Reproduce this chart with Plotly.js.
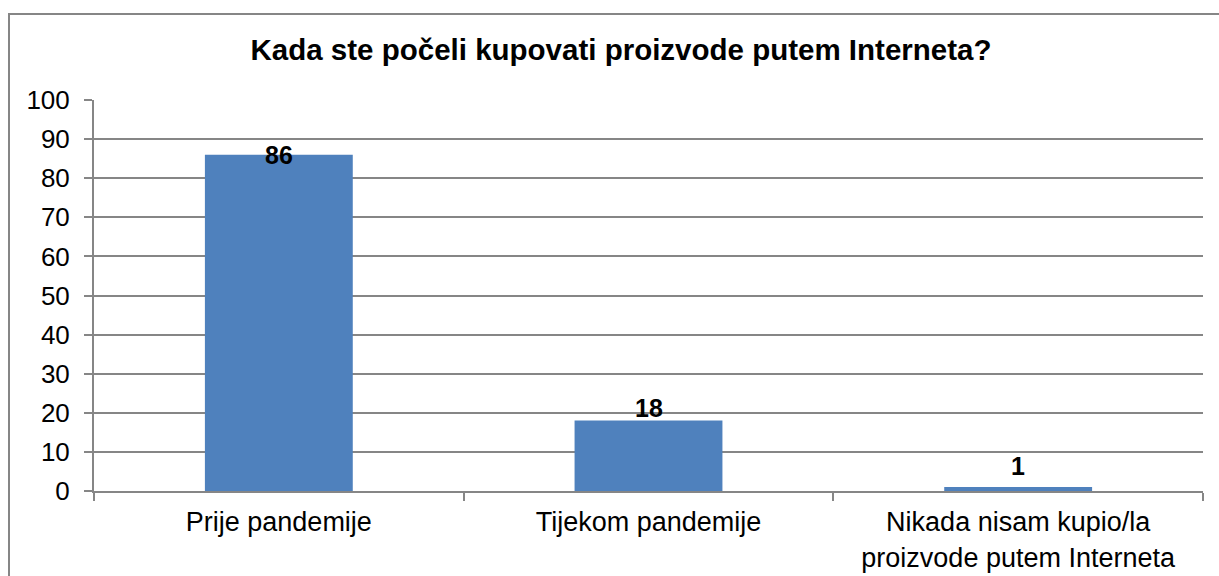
<!DOCTYPE html>
<html>
<head>
<meta charset="utf-8">
<script src="https://cdn.plot.ly/plotly-3.0.1.min.js"></script>
<style>
html,body{margin:0;padding:0;background:#fff;}
#wrap{position:relative;width:1219px;height:576px;overflow:hidden;}
#chart{width:1219px;height:576px;}
#frame{position:absolute;left:8px;top:13px;width:1300px;height:700px;border:2px solid #868686;box-sizing:border-box;pointer-events:none;}
</style>
</head>
<body>
<div id="wrap"><div id="chart"></div><div id="frame"></div></div>
<script>
const categories = ["Prije pandemije", "Tijekom pandemije", "Nikada nisam kupio/la<br>proizvode putem Interneta"];
const values = [86, 18, 1];
const yTicks = [0, 10, 20, 30, 40, 50, 60, 70, 80, 90, 100];
const labelShift = [0, 13, 21];

const font = "Liberation Sans, Arial, sans-serif";
const trace = {
  type: "bar",
  x: categories,
  y: values,
  marker: {color: "#4F81BD"},
  hoverinfo: "x+y"
};
const annotations = values.map((v, i) => ({
  x: categories[i], y: v, xref: "x", yref: "y",
  text: "<b>" + v + "</b>", showarrow: false,
  yanchor: "middle", yshift: labelShift[i],
  font: {family: font, size: 25, color: "#000"}
}));
const layout = {
  width: 1219, height: 576,
  margin: {l: 94, r: 16, t: 100, b: 85},
  paper_bgcolor: "#fff", plot_bgcolor: "#fff",
  bargap: 0.6,
  showlegend: false,
  title: {text: "<b>Kada ste počeli kupovati proizvode putem Interneta?</b>",
          font: {family: font, size: 29.5, color: "#000"},
          x: 621/1219, xref: "container", xanchor: "center",
          y: 1 - 50/576, yref: "container", yanchor: "middle"},
  xaxis: {type: "category", tickson: "boundaries", ticks: "outside", ticklen: 8,
          tickcolor: "#868686", tickwidth: 2, showline: true, linecolor: "#868686", linewidth: 2,
          showgrid: false, ticklabelstandoff: 6,
          tickfont: {family: font, size: 27, color: "#000"}, fixedrange: true},
  yaxis: {range: [0, 100], tickvals: yTicks, ticktext: yTicks.map(String), ticks: "outside", ticklen: 8,
          tickcolor: "#868686", tickwidth: 2, showline: true, linecolor: "#868686", linewidth: 2,
          showgrid: true, gridcolor: "#868686", gridwidth: 2, zeroline: false, ticklabelstandoff: 9,
          tickfont: {family: font, size: 26, color: "#000"}, fixedrange: true},
  annotations: annotations
};
Plotly.newPlot("chart", [trace], layout, {displayModeBar: false, staticPlot: true});
</script>
</body>
</html>
